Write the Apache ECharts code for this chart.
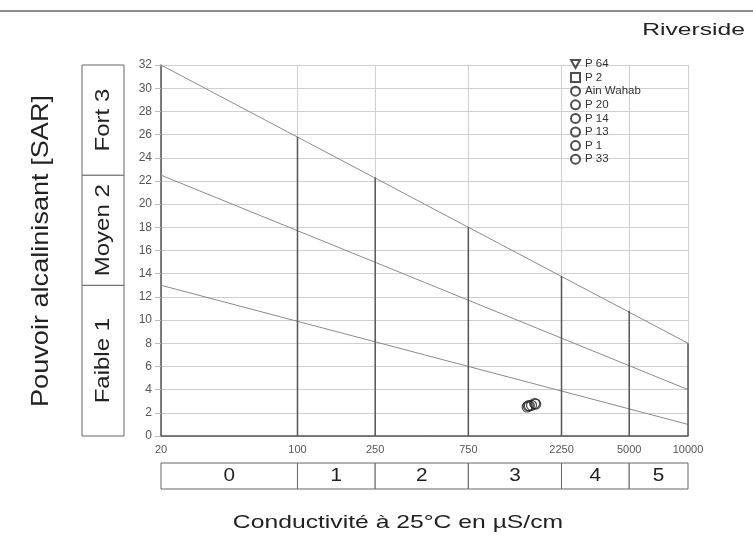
<!DOCTYPE html>
<html>
<head>
<meta charset="utf-8">
<script src="https://cdn.jsdelivr.net/npm/echarts@6/dist/echarts.min.js"></script>
<style>
  html, body { margin: 0; background: #fff; }
  #main { width: 753px; height: 538px; }
</style>
</head>
<body>
<div id="main"></div>
<script>
// axe des conductivités (µS/cm) et classes
var ecTicks = [20, 100, 250, 750, 2250, 5000, 10000];
var ecClasses = ['0', '1', '2', '3', '4', '5'];
// classes SAR
var sarBounds = [0, 13, 22.5, 32];
var sarClasses = ['Faible 1', 'Moyen 2', 'Fort 3'];

// droites de séparation (lues aux extrémités)
var lineHigh = [[20, 32], [10000, 8]];
var lineMid = [[20, 22.5], [10000, 4]];
var lineLow = [[20, 13], [10000, 1]];
// verticales foncées : SAR au point de rencontre avec la droite haute
var vertTops = [[100, 25.8], [250, 22.3], [750, 18.0], [2250, 13.8], [5000, 10.8], [10000, 8]];

// échantillons
var sampleNames = ['P 64', 'P 2', 'Ain Wahab', 'P 20', 'P 14', 'P 13', 'P 1', 'P 33'];
var sampleSymbols = ['path://M0,0L10,0L5,9Z', 'rect', 'circle', 'circle', 'circle', 'circle', 'circle', 'circle'];
var p64 = [];
var p2 = [];
var ainWahab = [[1520, 2.6]];
var p20 = [[1660, 2.75]];
var p14 = [[1500, 2.5]];
var p13 = [[1540, 2.6]];
var p1 = [[1640, 2.8]];
var p33 = [[1580, 2.65]];
var sampleData = [p64, p2, ainWahab, p20, p14, p13, p1, p33];

var chart = echarts.init(document.getElementById('main'));

var series = [];
[lineHigh, lineMid, lineLow].forEach(function (d) {
  series.push({
    type: 'line', data: d, symbol: 'none', silent: true, z: 3,
    lineStyle: { color: '#8a8a8a', width: 1 }
  });
});
vertTops.forEach(function (p) {
  series.push({
    type: 'line', data: [[p[0], 0], p], symbol: 'none', silent: true, z: 3,
    lineStyle: { color: '#555', width: 1.5 }
  });
});
sampleNames.forEach(function (name, i) {
  series.push({
    name: name, type: 'scatter', data: sampleData[i],
    symbol: sampleSymbols[i], symbolSize: i < 2 ? 8 : 10, z: 5,
    itemStyle: { color: 'rgba(255,255,255,0)', borderColor: '#222', borderWidth: 1.2 }
  });
});

chart.setOption({
  animation: false,
  grid: { left: 161, right: 65, top: 65, bottom: 102 },
  legend: {
    data: sampleNames,
    orient: 'vertical',
    left: 570, top: 58,
    itemWidth: 9, itemHeight: 9, itemGap: 1.6,
    padding: 0,
    textStyle: { fontSize: 11.5, color: '#333', fontFamily: 'Liberation Sans' }
  },
  xAxis: {
    type: 'log', logBase: 10, min: 20, max: 10000,
    axisLine: { lineStyle: { color: '#555', width: 1.5 } },
    axisTick: { show: false, customValues: ecTicks },
    axisLabel: {
      customValues: ecTicks, fontSize: 11, color: '#555', margin: 8,
      fontFamily: 'Liberation Sans',
      formatter: function (v) { return String(Math.round(v)); }
    },
    splitLine: { show: true, lineStyle: { color: '#cfcfcf', width: 1 } },
    minorTick: { show: false }
  },
  yAxis: {
    type: 'value', min: 0, max: 32, interval: 2,
    axisLine: { show: true, lineStyle: { color: '#555', width: 1.5 } },
    axisTick: { show: true, length: 6, lineStyle: { color: '#bbb' } },
    axisLabel: { fontSize: 12, color: '#555', margin: 9, fontFamily: 'Liberation Sans' },
    splitLine: { lineStyle: { color: '#cfcfcf', width: 1 } }
  },
  series: series
});

// cadres de classes, positionnés par les échelles du graphique
var graphic = [];
var boxLeft = 82, boxRight = 124;
for (var i = 0; i < sarClasses.length; i++) {
  var yBot = chart.convertToPixel({ gridIndex: 0 }, [20, sarBounds[i]])[1];
  var yTop = chart.convertToPixel({ gridIndex: 0 }, [20, sarBounds[i + 1]])[1];
  graphic.push({
    type: 'rect', shape: { x: boxLeft, y: yTop, width: boxRight - boxLeft, height: yBot - yTop },
    style: { fill: '#fff', stroke: '#666', lineWidth: 1 }
  });
  graphic.push({
    type: 'text', x: (boxLeft + boxRight) / 2, y: (yTop + yBot) / 2,
    rotation: Math.PI / 2, scaleX: 1.2,
    style: {
      text: sarClasses[i], fontSize: 20, fill: '#222', fontFamily: 'Liberation Sans',
      align: 'center', verticalAlign: 'middle'
    }
  });
}
var boxTop = 463, boxBottom = 489;
for (var j = 0; j < ecClasses.length; j++) {
  var xl = chart.convertToPixel({ gridIndex: 0 }, [ecTicks[j], 0])[0];
  var xr = chart.convertToPixel({ gridIndex: 0 }, [ecTicks[j + 1], 0])[0];
  graphic.push({
    type: 'rect', shape: { x: xl, y: boxTop, width: xr - xl, height: boxBottom - boxTop },
    style: { fill: '#fff', stroke: '#666', lineWidth: 1 }
  });
  graphic.push({
    type: 'text', x: (xl + xr) / 2, y: (boxTop + boxBottom) / 2, scaleX: 1.15,
    style: {
      text: ecClasses[j], fontSize: 18, fill: '#222', fontFamily: 'Liberation Sans',
      align: 'center', verticalAlign: 'middle'
    }
  });
}
graphic.push({
  type: 'line', shape: { x1: 0, y1: 11, x2: 753, y2: 11 },
  style: { stroke: '#666', lineWidth: 1.5 }
});
graphic.push({
  type: 'text', x: 745, y: 30, scaleX: 1.45,
  style: {
    text: 'Riverside', fontSize: 17, fill: '#222', fontFamily: 'Liberation Sans',
    align: 'right', verticalAlign: 'middle'
  }
});
graphic.push({
  type: 'text', x: 41, y: 251, rotation: Math.PI / 2, scaleX: 1.13,
  style: {
    text: 'Pouvoir alcalinisant [SAR]', fontSize: 24, fill: '#222', fontFamily: 'Liberation Sans',
    align: 'center', verticalAlign: 'middle'
  }
});
graphic.push({
  type: 'text', x: 398, y: 523, scaleX: 1.3,
  style: {
    text: 'Conductivité à 25°C en µS/cm', fontSize: 19, fill: '#222', fontFamily: 'Liberation Sans',
    align: 'center', verticalAlign: 'middle'
  }
});
chart.setOption({ graphic: graphic });
</script>
</body>
</html>
